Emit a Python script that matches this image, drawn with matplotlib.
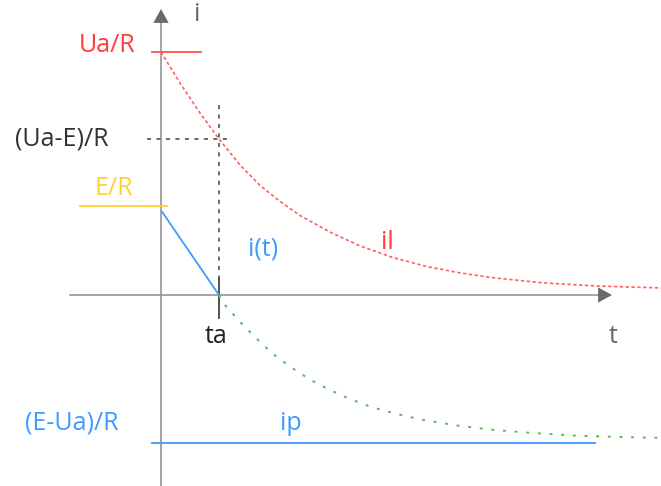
import matplotlib.pyplot as plt

plt.rcParams["font.family"] = ["Open Sans", "DejaVu Sans"]

# time in units of ta, current in units of Ua/R
ta = 1.0
lvl_ua = 1.0          # Ua/R
lvl_ua_e = 0.642      # (Ua-E)/R
lvl_e = 0.366         # E/R
lvl_ip = -0.609       # (E-Ua)/R
it_start = 0.342      # i(t) at t = 0

# il: decay from Ua/R
il_t = [0.0, 0.328, 0.672, 1.0, 1.362, 1.707, 2.052, 2.397, 2.914, 3.431,
        4.0, 4.586, 5.155, 5.724, 6.586, 7.517, 8.621]
il_i = [1.0, 0.872, 0.749, 0.642, 0.535, 0.451, 0.385, 0.327, 0.259, 0.202,
        0.154, 0.117, 0.091, 0.071, 0.050, 0.037, 0.029]

# continuation of i(t) after ta, towards (E-Ua)/R
ig_t = [1.0, 1.069, 1.362, 1.655, 1.931, 2.259, 2.569, 2.914, 3.259, 3.603,
        4.0, 4.517, 5.103, 5.724, 6.414, 7.172, 8.034, 8.621]
ig_i = [0.0, -0.032, -0.111, -0.181, -0.243, -0.300, -0.348, -0.391, -0.428,
        -0.459, -0.486, -0.514, -0.537, -0.555, -0.568, -0.579, -0.585, -0.588]

RED = "#ff3b3b"
GOLD = "#ffcf33"
BLUE = "#3d9bff"
GREEN = "#5cb85c"
DARK = "#444444"
AXIS = "#8c8c8c"

fig = plt.figure(figsize=(6.61, 4.86), dpi=100)
ax = fig.add_axes([0, 0, 1, 1])
ax.set_xlim(-2.776, 8.621)
ax.set_ylim(-0.786, 1.214)
ax.axis("off")

# axes with arrow heads
arrow = dict(arrowstyle="-|>,head_length=1.0,head_width=0.55",
             color="#6a6a6a", lw=0, mutation_scale=10, shrinkA=0, shrinkB=0)
ax.plot([0, 0], [-0.786, 1.12], color=AXIS, lw=1.1, zorder=1)
ax.annotate("", xy=(0, 1.177), xytext=(0, 1.11), arrowprops=arrow)
ax.plot([-1.569, 7.56], [0, 0], color=AXIS, lw=1.1, zorder=1)
ax.annotate("", xy=(7.776, 0), xytext=(7.50, 0), arrowprops=arrow)

# level markers
ax.plot([-0.155, 0.69], [lvl_ua, lvl_ua], color="#ff5050", lw=1.3)
ax.plot([-1.397, 0.103], [lvl_e, lvl_e], color=GOLD, lw=1.3)
ax.plot([-0.241, 1.207], [lvl_ua_e, lvl_ua_e], color=DARK, lw=1.1,
        linestyle=(0, (2.7, 3.5)))
ax.plot([ta, ta], [0.782, 0.066], color=DARK, lw=1.1,
        linestyle=(0, (2.7, 3.5)))
ax.plot([ta, ta], [0.066, -0.095], color="#333333", lw=1.2)
ax.plot([-0.155, 7.483], [lvl_ip, lvl_ip], color=BLUE, lw=1.3)

# currents
ax.plot(il_t, il_i, color="#ff6060", lw=1.2, linestyle=(0, (2, 1.5)))
ax.plot([0.02, ta], [it_start, 0], color=BLUE, lw=1.3)
ax.plot(ig_t, ig_i, color=GREEN, lw=1.4, linestyle=(0, (1.5, 4.5)))

# labels
fs = 18
ax.text(0.62, 1.155, "i", color="#666666", fontsize=fs, ha="center", va="center")
ax.text(7.80, -0.169, "t", color="#666666", fontsize=fs, ha="center", va="center")
ax.text(-0.93, 1.025, "Ua/R", color=RED, fontsize=fs, ha="center", va="center")
ax.text(-1.707, lvl_ua_e, "(Ua-E)/R", color="#333333", fontsize=fs,
        ha="center", va="center")
ax.text(-0.81, 0.44, "E/R", color=GOLD, fontsize=fs, ha="center", va="center")
ax.text(1.76, 0.189, "i(t)", color=BLUE, fontsize=fs, ha="center", va="center")
ax.text(3.90, 0.218, "il", color=RED, fontsize=fs, ha="center", va="center")
ax.text(0.95, -0.169, "ta", color="#222222", fontsize=fs, ha="center", va="center")
ax.text(-1.534, -0.527, "(E-Ua)/R", color=BLUE, fontsize=fs,
        ha="center", va="center")
ax.text(2.24, -0.527, "ip", color=BLUE, fontsize=fs, ha="center", va="center")

fig.savefig("out.png", dpi=100)
